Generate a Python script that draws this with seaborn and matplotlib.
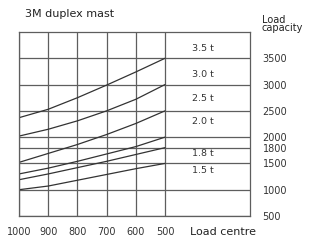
import matplotlib
matplotlib.use("Agg")
import matplotlib.pyplot as plt
import seaborn as sns
import pandas as pd

centres = [1000, 900, 800, 700, 600, 500]
series_names = ["3.5 t", "3.0 t", "2.5 t", "2.0 t", "1.8 t", "1.5 t"]
cap_35 = [2370, 2530, 2750, 2990, 3240, 3500]
cap_30 = [2020, 2150, 2310, 2500, 2720, 3000]
cap_25 = [1520, 1690, 1860, 2050, 2260, 2500]
cap_20 = [1300, 1410, 1540, 1680, 1820, 2000]
cap_18 = [1190, 1300, 1420, 1540, 1670, 1800]
cap_15 = [1000, 1070, 1180, 1290, 1400, 1500]
label_y = [3680, 3200, 2740, 2290, 1680, 1360]
y_ticks = [500, 1000, 1500, 1800, 2000, 2500, 3000, 3500]

all_caps = [cap_35, cap_30, cap_25, cap_20, cap_18, cap_15]
rows = []
for name, caps in zip(series_names, all_caps):
    for c, v in zip(centres, caps):
        rows.append({"series": name, "centre": c, "capacity": v})
df = pd.DataFrame(rows)

sns.set_style("white")
plt.rcParams['font.family'] = ['DejaVu Sans']

fig = plt.figure(figsize=(3.09, 2.40), dpi=100)
ax = fig.add_axes([19/309, 1 - 216/240, 231/309, 184/240])

grid_c = "#5e5e5e"
ax.set_xlim(1000, 209)
ax.set_ylim(500, 4000)
ax.set_xticks(centres)
ax.set_yticks(y_ticks)
ax.grid(True, color=grid_c, linewidth=0.9)
ax.set_axisbelow(True)

sns.lineplot(data=df, x="centre", y="capacity", units="series", estimator=None,
             color="#333333", linewidth=0.9, ax=ax, legend=False, sort=False)

for sp in ax.spines.values():
    sp.set_color(grid_c)
    sp.set_linewidth(0.9)

ax.yaxis.tick_right()
ax.tick_params(axis="y", length=0, pad=9, labelsize=7, labelcolor="#333333")
ax.tick_params(axis="x", length=0, pad=8, labelsize=7, labelcolor="#333333")
ax.set_xlabel("")
ax.set_ylabel("")

for name, ly in zip(series_names, label_y):
    ax.text(370, ly, name, ha="center", va="center", fontsize=6.8, color="#333333")

fig.text(25/309, 1 - 14/240, "3M duplex mast", ha="left", va="center",
         fontsize=8, color="#222222")
fig.text(262/309, 1 - 24/240, "Load\ncapacity", ha="left", va="center",
         fontsize=7, color="#222222", linespacing=0.85)
fig.text(190/309, 1 - 232/240, "Load centre", ha="left", va="center",
         fontsize=8, color="#222222")

fig.savefig("out.png", dpi=100)
